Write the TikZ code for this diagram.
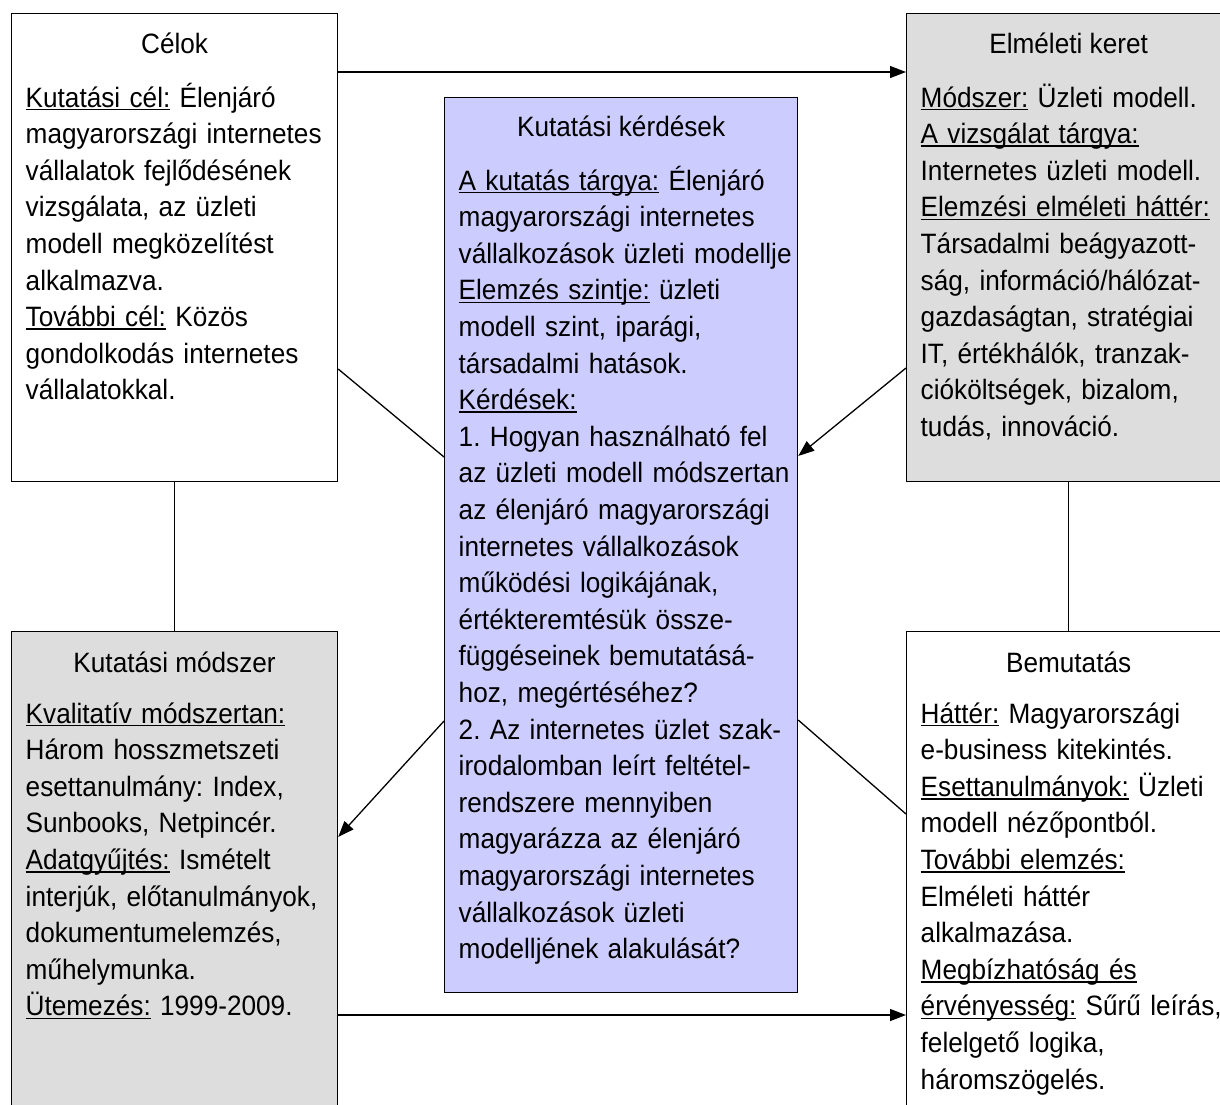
\documentclass[tikz,border=0pt]{standalone}
\usepackage{fontspec}
\usepackage{xcolor}
\usepackage{tikz}
\usetikzlibrary{arrows.meta,positioning,calc}
\newfontfamily\boxfont{Liberation Sans}[FakeStretch=0.935]
\definecolor{questionlilac}{RGB}{204, 204, 255}
\definecolor{panelgray}{RGB}{221, 221, 221}
% underlined label, rule crossing the descenders like in a word processor
\newcommand{\ulabel}[1]{\leavevmode\setbox0\hbox{#1}\rlap{\rule[-3.4pt]{\wd0}{1.6pt}}\box0\relax}

\begin{document}
\begin{tikzpicture}[x=1pt, y=-1pt, >={Triangle[length=16pt,width=12pt]},
    panel/.style={draw, line width=1.2pt, minimum width=#1, anchor=north west, inner sep=0pt},
    head/.style={font=\boxfont\fontsize{28}{36.6}\selectfont, anchor=base, inner sep=0pt},
    body/.style={font=\boxfont\fontsize{28}{36.6}\selectfont\frenchspacing, anchor=base west,
        inner sep=0pt, text width=345pt, align=left},
    link/.style={line width=1.3pt}]
        \useasboundingbox (0,0) rectangle (1220,1104);
        % Boxes
        \node[panel=326pt, minimum height=468pt, fill=white] (celok) at (11,13) {};
        \node[panel=324pt, minimum height=468pt, fill=panelgray] (elmelet) at (906,13) {};
        \node[panel=353pt, minimum height=895pt, fill=questionlilac] (kerdes) at (444,97) {};
        \node[panel=326pt, minimum height=520pt, fill=panelgray] (modszer) at (11,631) {};
        \node[panel=324pt, minimum height=520pt, fill=white] (bemutat) at (906,631) {};

        % Titles
        \node[head] (celokhead) at ([shift={(0,40)}]celok.north) {Célok};
        \node[head] (elmelethead) at ([shift={(0,40)}]elmelet.north) {Elméleti keret};
        \node[head] (kerdeshead) at ([shift={(0,39)}]kerdes.north) {Kutatási kérdések};
        \node[head] (modszerhead) at ([shift={(0,41)}]modszer.north) {Kutatási módszer};
        \node[head] (bemutathead) at ([shift={(0,41)}]bemutat.north) {Bemutatás};

        % Texts
        \node[body] (celoktext) at ([shift={(14.5,94)}]celok.north west) {%
            \ulabel{Kutatási cél:} Élenjáró\\
            magyarországi internetes\\
            vállalatok fejlődésének\\
            vizsgálata, az üzleti\\
            modell megközelítést\\
            alkalmazva.\\
            \ulabel{További cél:} Közös\\
            gondolkodás internetes\\
            vállalatokkal.};
        \node[body] (elmelettext) at ([shift={(14.5,94)}]elmelet.north west) {%
            \ulabel{Módszer:} Üzleti modell.\\
            \ulabel{A vizsgálat tárgya:}\\
            Internetes üzleti modell.\\
            \ulabel{Elemzési elméleti háttér:}\\
            Társadalmi beágyazott-\\
            ság, információ/hálózat-\\
            gazdaságtan, stratégiai\\
            IT, értékhálók, tranzak-\\
            cióköltségek, bizalom,\\
            tudás, innováció.};
        \node[body] (kerdestext) at ([shift={(14.5,93)}]kerdes.north west) {%
            \ulabel{A kutatás tárgya:} Élenjáró\\
            magyarországi internetes\\
            vállalkozások üzleti modellje\\
            \ulabel{Elemzés szintje:} üzleti\\
            modell szint, iparági,\\
            társadalmi hatások.\\
            \ulabel{Kérdések:}\\
            1. Hogyan használható fel\\
            az üzleti modell módszertan\\
            az élenjáró magyarországi\\
            internetes vállalkozások\\
            működési logikájának,\\
            értékteremtésük össze-\\
            függéseinek bemutatásá-\\
            hoz, megértéséhez?\\
            2. Az internetes üzlet szak-\\
            irodalomban leírt feltétel-\\
            rendszere mennyiben\\
            magyarázza az élenjáró\\
            magyarországi internetes\\
            vállalkozások üzleti\\
            modelljének alakulását?};
        \node[body] (modszertext) at ([shift={(14.5,92)}]modszer.north west) {%
            \ulabel{Kvalitatív módszertan:}\\
            Három hosszmetszeti\\
            esettanulmány: Index,\\
            Sunbooks, Netpincér.\\
            \ulabel{Adatgyűjtés:} Ismételt\\
            interjúk, előtanulmányok,\\
            dokumentumelemzés,\\
            műhelymunka.\\
            \ulabel{Ütemezés:} 1999-2009.};
        \node[body] (bemutattext) at ([shift={(14.5,92)}]bemutat.north west) {%
            \ulabel{Háttér:} Magyarországi\\
            e-business kitekintés.\\
            \ulabel{Esettanulmányok:} Üzleti\\
            modell nézőpontból.\\
            \ulabel{További elemzés:}\\
            Elméleti háttér\\
            alkalmazása.\\
            \ulabel{Megbízhatóság és}\\
            \ulabel{érvényesség:} Sűrű leírás,\\
            felelgető logika,\\
            háromszögelés.};

        % Connectors
        \draw[link, ->] (celok.east |- 0,72) -- (elmelet.west |- 0,72);
        \draw[link] (celok.east |- 0,369) -- (kerdes.west |- 0,457);
        \draw[link, ->] (elmelet.west |- 0,368) -- (kerdes.east |- 0,456);
        \draw[link] (celok.south) -- (modszer.north);
        \draw[link] (elmelet.south) -- (bemutat.north);
        \draw[link, ->] (kerdes.west |- 0,721) -- (modszer.east |- 0,837);
        \draw[link] (kerdes.east |- 0,720) -- (bemutat.west |- 0,814);
        \draw[link, ->] (modszer.east |- 0,1015) -- (bemutat.west |- 0,1015);
    \end{tikzpicture}
\end{document}
